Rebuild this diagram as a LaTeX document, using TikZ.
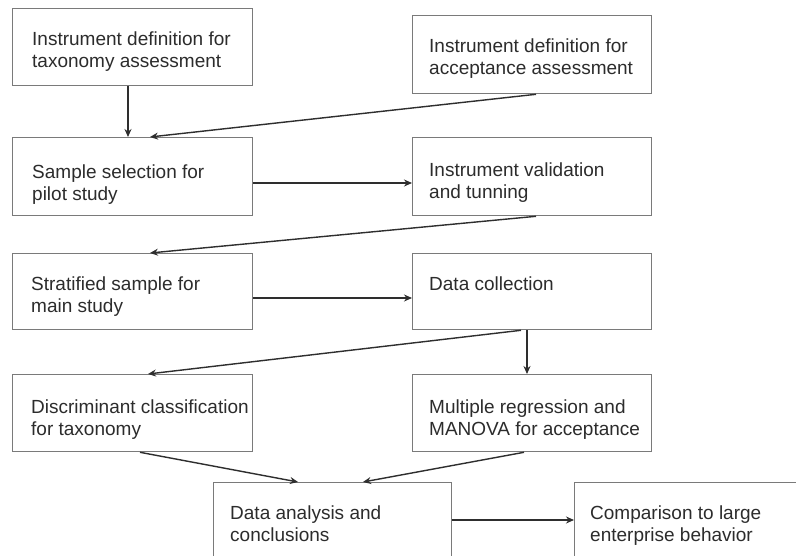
\documentclass[tikz,border=0pt]{standalone}
\usepackage{fontspec}
\setmainfont{Liberation Sans}
\usetikzlibrary{arrows.meta}
\definecolor{boxline}{HTML}{7A7A7A}
\definecolor{arrline}{HTML}{2E2E2E}
\definecolor{txt}{HTML}{2C2C2C}
\tikzset{
  procbox/.style={draw=boxline, line width=1.3pt, rectangle, anchor=north west,
    minimum width=240pt, minimum height=77pt, inner sep=0pt},
  boxtext/.style={anchor=north west, inner sep=0pt, align=left, text=txt,
    font=\fontsize{19}{22}\selectfont},
  conn/.style={draw=arrline, line width=1.4pt, -{Stealth[length=8pt,width=7pt]}}
}
\begin{document}
\begin{tikzpicture}[x=1pt,y=-1pt]
\useasboundingbox (0,0) rectangle (796,556);
\fill[white] (0,0) rectangle (796,556);
% boxes
\node[procbox] (b1) at (12,8) {};
\node[procbox, minimum width=239pt, minimum height=78pt] (b2) at (412,15) {};
\node[procbox, minimum height=78pt] (b3) at (12,137) {};
\node[procbox, minimum width=239pt, minimum height=78pt] (b4) at (412,137) {};
\node[procbox, minimum height=76pt] (b5) at (12,253) {};
\node[procbox, minimum width=239pt, minimum height=76pt] (b6) at (412,253) {};
\node[procbox] (b7) at (12,374) {};
\node[procbox, minimum width=239pt] (b8) at (412,374) {};
\node[procbox, minimum width=238pt, minimum height=80pt] (b9) at (213,482) {};
\node[procbox, minimum height=80pt] (b10) at (574,482) {};
% texts
\node[boxtext] (t1) at ([shift={(20,24)}]b1.north west) {Instrument definition for\\taxonomy assessment};
\node[boxtext] (t2) at ([shift={(17,24)}]b2.north west) {Instrument definition for\\acceptance assessment};
\node[boxtext] (t3) at ([shift={(20,28)}]b3.north west) {Sample selection for\\pilot study};
\node[boxtext] (t4) at ([shift={(17,26)}]b4.north west) {Instrument validation\\and tunning};
\node[boxtext] (t5) at ([shift={(19,24)}]b5.north west) {Stratified sample for\\main study};
\node[boxtext] (t6) at ([shift={(17,24)}]b6.north west) {Data collection};
\node[boxtext] (t7) at ([shift={(19,26)}]b7.north west) {Discriminant classification\\for taxonomy};
\node[boxtext] (t8) at ([shift={(17,26)}]b8.north west) {Multiple regression and\\MANOVA for acceptance};
\node[boxtext] (t9) at ([shift={(17,24)}]b9.north west) {Data analysis and\\conclusions};
\node[boxtext] (t10) at ([shift={(16,24)}]b10.north west) {Comparison to large\\enterprise behavior};
% connectors
\draw[conn] ([shift={(116,0)}]b1.south west) -- ([shift={(116,0)}]b3.north west);
\draw[conn] ([shift={(124,0)}]b2.south west) -- ([shift={(138,0)}]b3.north west);
\draw[conn] ([shift={(0,46)}]b3.north east) -- ([shift={(0,46)}]b4.north west);
\draw[conn] ([shift={(124,0)}]b4.south west) -- ([shift={(138,0)}]b5.north west);
\draw[conn] ([shift={(0,45)}]b5.north east) -- ([shift={(0,45)}]b6.north west);
\draw[conn] ([shift={(109,0)}]b6.south west) -- ([shift={(136,0)}]b7.north west);
\draw[conn] ([shift={(115,0)}]b6.south west) -- ([shift={(115,0)}]b8.north west);
\draw[conn] ([shift={(128,0)}]b7.south west) -- ([shift={(85,0)}]b9.north west);
\draw[conn] ([shift={(112,0)}]b8.south west) -- ([shift={(150,0)}]b9.north west);
\draw[conn] ([shift={(0,38)}]b9.north east) -- ([shift={(0,38)}]b10.north west);
\end{tikzpicture}
\end{document}
